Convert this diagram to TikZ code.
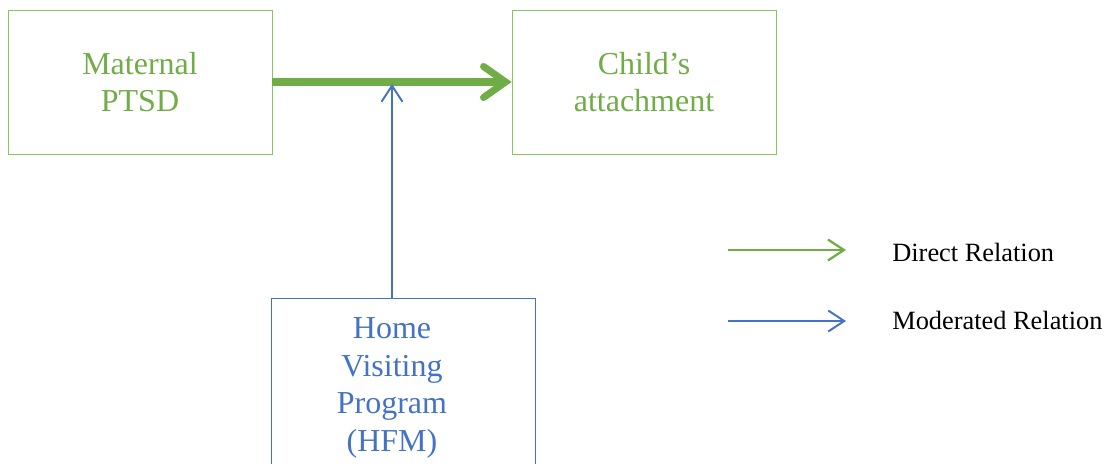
\documentclass[tikz,border=0pt]{standalone}
\usepackage{fontspec}
\setmainfont{Liberation Serif}
\usepackage{tikz}
\usetikzlibrary{
  arrows.meta,%
  positioning,%
  calc
}
\definecolor{relgreen}{RGB}{112,173,71}
\definecolor{boxgreen}{RGB}{140,196,100}
\definecolor{relblue}{RGB}{68,114,196}
\tikzset{>=latex}
\tikzset{
  varbox/.style={draw, thin, align=center, minimum width=5.28cm,
    minimum height=2.88cm, inner sep=0pt,
    font=\fontsize{18.2}{21}\selectfont},
  direct/.style={relgreen, line width=4pt,
    -{Straight Barb[length=4.4mm, width=6.2mm, line cap=round]}},
  moderated/.style={relblue, line width=1.1pt,
    -{Straight Barb[length=3.2mm, width=4.2mm]}},
  legendtext/.style={anchor=west, inner sep=0pt,
    font=\fontsize{15}{17}\selectfont}
}

\begin{document}
\begin{tikzpicture}
  \useasboundingbox (0,0) rectangle (22.2,-9.28);
  % variables
  \node[varbox, draw=boxgreen, text=relgreen] (mptsd) at (2.80,-1.64) {Maternal\\PTSD};
  \node[varbox, draw=boxgreen, text=relgreen] (attach) at (12.88,-1.64) {Child's\\attachment};
  \node[varbox, draw=relblue, minimum height=3.44cm,
    anchor=north] (hfm) at (8.06,-5.96) {};
  % relations
  \coordinate (meet) at (7.84,-1.68);
  \draw[direct] (mptsd.east) -- (attach.west);
  \draw[moderated] (meet |- hfm.center) ++(0,1.72) -- (meet);
  % moderator text sits under the arrow, not in the box centre
  \node[align=center, inner sep=0pt, text=relblue, yshift=-0.07cm,
    font=\fontsize{18.2}{21.3}\selectfont] (hfmtext) at (meet |- hfm.center)
    {Home\\Visiting\\Program\\(HFM)};
  % legend
  \coordinate (dstart) at (14.56,-5.00);
  \coordinate (dend) at (16.92,-5.00);
  \coordinate (mstart) at (14.56,-6.42);
  \coordinate (mend) at (16.92,-6.42);
  \draw[relgreen, line width=1.3pt, -{Straight Barb[length=3.2mm, width=4.2mm]}] (dstart) -- (dend);
  \draw[moderated] (mstart) -- (mend);
  \node[legendtext] (dlabel) at (17.84,-5.04) {Direct Relation};
  \node[legendtext] (mlabel) at (17.84,-6.40) {Moderated Relation};
\end{tikzpicture}
\end{document}
